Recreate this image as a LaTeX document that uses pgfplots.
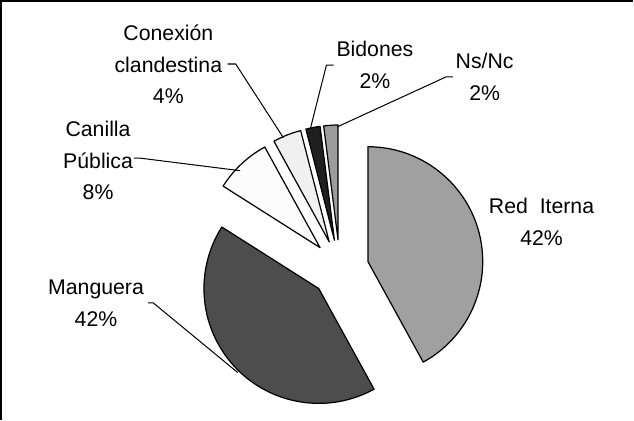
\documentclass[border=0pt]{standalone}
\usepackage{pgfplots}
\pgfplotsset{compat=1.18}
\usepackage{pgfplotstable}
\usepackage{fontspec}
\setmainfont{Liberation Sans}
\definecolor{c0}{HTML}{A0A0A0}
\definecolor{c1}{HTML}{4D4D4D}
\definecolor{c2}{HTML}{FCFCFC}
\definecolor{c3}{HTML}{F0F0F0}
\definecolor{c4}{HTML}{1F1F1F}
\definecolor{c5}{HTML}{9C9C9C}
% slices, clockwise from 12 o'clock
\pgfplotstableread{
pct col
42 c0
42 c1
8 c2
4 c3
2 c4
2 c5
}\pietable
\begin{document}
\begin{tikzpicture}
\begin{axis}[scale only axis, width=634bp, height=419bp,
  xmin=0, xmax=634, ymin=0, ymax=419, hide axis, clip=false]
\draw[line width=2bp] (axis cs:634,412) -- (axis cs:12,412) -- (axis cs:12,0);
\gdef\cum{0}
\pgfplotsinvokeforeach{0,...,5}{
  \pgfplotstablegetelem{#1}{pct}\of\pietable \let\pct\pgfplotsretval
  \pgfplotstablegetelem{#1}{col}\of\pietable \let\col\pgfplotsretval
  \pgfmathsetmacro\aone{90-3.6*\cum}
  \pgfmathsetmacro\atwo{90-3.6*(\cum+\pct)}
  \pgfmathsetmacro\amid{(\aone+\atwo)/2}
  \pgfmathsetmacro\cx{345.5+28.5*cos(\amid)}
  \pgfmathsetmacro\cy{148.5+28.5*sin(\amid)}
  \pgfmathsetmacro\newcum{\cum+\pct}
  \xdef\cum{\newcum}
  \edef\temp{\noexpand\filldraw[fill=\col, draw=black, line width=1.2bp, line join=round]
    (axis cs:\cx,\cy) -- ++(\aone:113bp) arc[start angle=\aone, end angle=\atwo, radius=113bp] -- cycle;}
  \temp
}
% leader lines
\draw[line width=1bp] (axis cs:156.7,115) -- (axis cs:161.7,115) -- (axis cs:245,46.3);
\draw[line width=1bp] (axis cs:142.7,257.3) -- (axis cs:149.3,257.3) -- (axis cs:247.3,245);
\draw[line width=1bp] (axis cs:235,350) -- (axis cs:243,350) -- (axis cs:290,277.3);
\draw[line width=1bp] (axis cs:339.3,349) -- (axis cs:332.3,349) -- (axis cs:316.7,287.3);
\draw[line width=1bp] (axis cs:456.7,337.3) -- (axis cs:450,337.3) -- (axis cs:343.3,288.3);
% labels
\tikzset{lab/.style={align=center, font=\fontsize{21}{31}\selectfont, inner sep=0pt}}
\node[lab] at (axis cs:544,194.5) {Red\ \ Iterna\\42\%};
\node[lab] at (axis cs:105.5,114.5) {Manguera\\42\%};
\node[lab] at (axis cs:107.5,255) {Canilla\\Pública\\8\%};
\node[lab] at (axis cs:176.7,349.5) {Conexión\\clandestina\\4\%};
\node[lab] at (axis cs:380,349) {Bidones\\2\%};
\node[lab] at (axis cs:488,337.3) {Ns/Nc\\2\%};
\end{axis}
\end{tikzpicture}
\end{document}
